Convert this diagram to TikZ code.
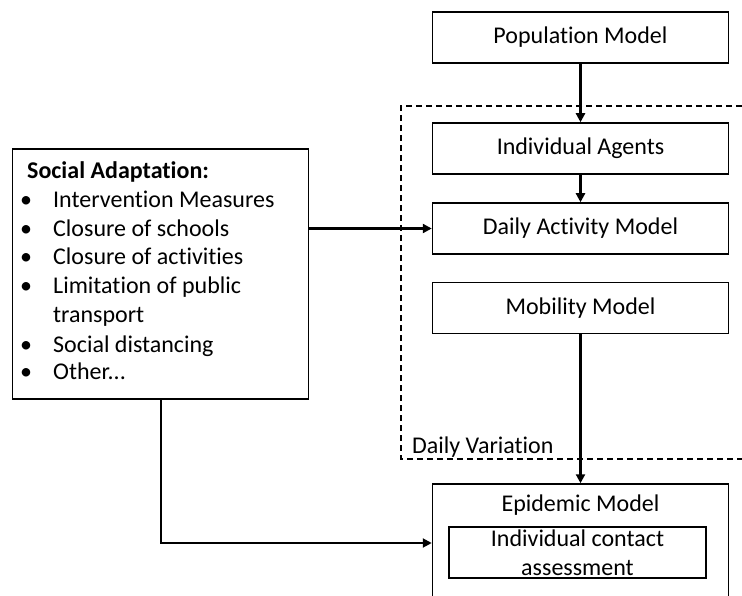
\documentclass[tikz,border=0pt]{standalone}
\usepackage{fontspec}
\setmainfont{Carlito}[Ligatures={NoCommon}]
\usetikzlibrary{arrows.meta}
\begin{document}
\begin{tikzpicture}[x=1pt,y=-1pt,
  txt/.style={font=\fontsize{24}{29}\selectfont},
  box/.style={draw, line width=1.5pt, minimum width=296pt, minimum height=51pt, inner sep=0pt, txt},
  arr/.style={line width=2.6pt, -{Triangle[length=9pt,width=9pt]}},
  dashbox/.style={line width=1.4pt, dash pattern=on 6pt off 4pt},
  item/.style={txt, anchor=base west, inner sep=0pt}
]
\clip (0,0) rectangle (742,596);
\fill[white] (0,0) rectangle (742,596);

% dashed daily variation region
\draw[dashbox] (742,106) -- (401,106) -- (401,459) -- (742,459);
\node[item] (dv) at (412,453) {Daily Variation};

% right column
\node[box] (pop) at (580.5,37.5) {Population Model};
\node[box] (ind) at (580.5,148.5) {Individual Agents};
\node[box] (act) at (580.5,228.5) {Daily Activity Model};
\node[box] (mob) at (580.5,308) {Mobility Model};

% epidemic model box (extends beyond bottom edge)
\node[draw, line width=1.5pt, minimum width=296pt, minimum height=118pt, inner sep=0pt] (epi) at (580.5,543) {};
\node[txt, inner sep=0pt] (epit) at (580.5,505) {Epidemic Model};
\node[draw, line width=1.5pt, minimum width=257pt, minimum height=51pt, inner sep=0pt, align=center, txt] (ica) at (577.5,552.5) {Individual contact\\assessment};

% social adaptation box
\node[draw, line width=1.5pt, minimum width=296pt, minimum height=250pt, inner sep=0pt] (soc) at (160.5,274) {};
\node[item] (st) at (27,179) {\bfseries Social Adaptation:};
\node[item] (b1) at (20,208) {•};
\node[item] (s1) at (53,208) {Intervention Measures};
\node[item] (b2) at (20,237) {•};
\node[item] (s2) at (53,237) {Closure of schools};
\node[item] (b3) at (20,265) {•};
\node[item] (s3) at (53,265) {Closure of activities};
\node[item] (b4) at (20,294) {•};
\node[item] (s4) at (53,294) {Limitation of public};
\node[item] (s4b) at (53,323) {transport};
\node[item] (b5) at (20,352) {•};
\node[item] (s5) at (53,352) {Social distancing};
\node[item] (b6) at (20,379) {•};
\node[item] (s6) at (53,379) {Other...};

% connectors
\draw[arr] (pop.south) -- (ind.north);
\draw[arr] (ind.south) -- (act.north);
\draw[arr] (soc.east |- act.west) -- (act.west);
\draw[arr] (mob.south) -- (epi.north);
\draw[arr, line width=2pt] (soc.south) |- (epi.west);
\end{tikzpicture}
\end{document}
